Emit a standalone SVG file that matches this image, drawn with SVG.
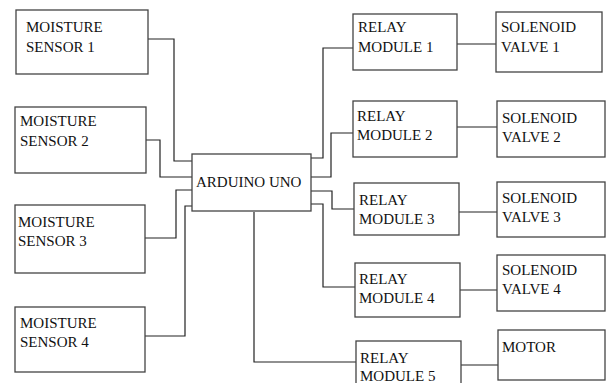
<svg xmlns="http://www.w3.org/2000/svg" width="606" height="383" viewBox="0 0 606 383">
<style>
.box{fill:#fff;stroke:#444;stroke-width:1.3}
.t{font-family:"Liberation Serif","Times New Roman",serif;font-size:15px;fill:#111}
.c{fill:none;stroke:#222;stroke-width:1.2}
</style>
<rect width="606" height="383" fill="#fff"/>
<g id="connectors">
<polyline class="c" points="148,39 174,39 174,161 192,161"/>
<polyline class="c" points="146,140 160,140 160,177 192,177"/>
<polyline class="c" points="145,238 176,238 176,190 192,190"/>
<polyline class="c" points="145,336 185,336 185,206 192,206"/>
<polyline class="c" points="254,212 254,362 356,362"/>
<polyline class="c" points="311,158 323,158 323,48 353,48"/>
<polyline class="c" points="311,177 331,177 331,133 353,133"/>
<polyline class="c" points="311,191 332,191 332,209 354,209"/>
<polyline class="c" points="311,204 323,204 323,287 355,287"/>
<line class="c" x1="457" y1="44" x2="496" y2="44"/>
<line class="c" x1="457" y1="127" x2="497" y2="127"/>
<line class="c" x1="459" y1="212" x2="497" y2="212"/>
<line class="c" x1="460" y1="290" x2="497" y2="290"/>
<line class="c" x1="461" y1="365" x2="498" y2="365"/>
</g>
<g id="sensor1"><rect class="box" x="16" y="10" width="132" height="64"/><text class="t" x="26" y="32">MOISTURE</text><text class="t" x="26" y="52">SENSOR 1</text></g>
<g id="sensor2"><rect class="box" x="15" y="107" width="131" height="66"/><text class="t" x="20" y="126">MOISTURE</text><text class="t" x="20" y="146">SENSOR 2</text></g>
<g id="sensor3"><rect class="box" x="15" y="205" width="130" height="68"/><text class="t" x="18" y="227">MOISTURE</text><text class="t" x="18" y="246">SENSOR 3</text></g>
<g id="sensor4"><rect class="box" x="15" y="307" width="130" height="65"/><text class="t" x="20" y="328">MOISTURE</text><text class="t" x="20" y="347">SENSOR 4</text></g>
<g id="arduino"><rect class="box" x="192" y="154" width="119" height="57"/><text class="t" x="196" y="187">ARDUINO UNO</text></g>
<g id="relay1"><rect class="box" x="353" y="14" width="104" height="56"/><text class="t" x="358" y="32">RELAY</text><text class="t" x="358" y="52">MODULE 1</text></g>
<g id="relay2"><rect class="box" x="353" y="101" width="104" height="56"/><text class="t" x="357" y="121">RELAY</text><text class="t" x="357" y="140">MODULE 2</text></g>
<g id="relay3"><rect class="box" x="354" y="183" width="105" height="52"/><text class="t" x="359" y="205">RELAY</text><text class="t" x="359" y="224">MODULE 3</text></g>
<g id="relay4"><rect class="box" x="355" y="263" width="105" height="54"/><text class="t" x="359" y="284">RELAY</text><text class="t" x="359" y="303">MODULE 4</text></g>
<g id="relay5"><rect class="box" x="356" y="341" width="105" height="50"/><text class="t" x="360" y="363">RELAY</text><text class="t" x="360" y="381">MODULE 5</text></g>
<g id="valve1"><rect class="box" x="496" y="12" width="106" height="60"/><text class="t" x="501" y="32">SOLENOID</text><text class="t" x="501" y="52">VALVE 1</text></g>
<g id="valve2"><rect class="box" x="497" y="101" width="108" height="56"/><text class="t" x="502" y="123">SOLENOID</text><text class="t" x="502" y="142">VALVE 2</text></g>
<g id="valve3"><rect class="box" x="497" y="182" width="108" height="55"/><text class="t" x="502" y="203">SOLENOID</text><text class="t" x="502" y="222">VALVE 3</text></g>
<g id="valve4"><rect class="box" x="497" y="255" width="108" height="56"/><text class="t" x="502" y="275">SOLENOID</text><text class="t" x="502" y="294">VALVE 4</text></g>
<g id="motor"><rect class="box" x="498" y="330" width="107" height="50"/><text class="t" x="502" y="352">MOTOR</text></g>
</svg>
